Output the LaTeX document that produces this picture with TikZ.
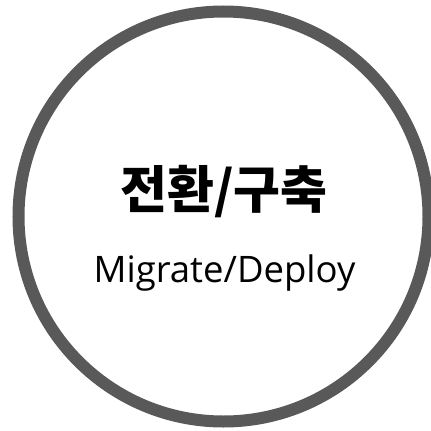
\documentclass[tikz,border=0pt]{standalone}
\usepackage{fontspec}
\setmainfont{Open Sans}
\newfontfamily\krfont{Noto Sans CJK KR}
\usetikzlibrary{positioning}
\definecolor{RimGray}{RGB}{89,89,89}

\begin{document}
\begin{tikzpicture}[x=1pt, y=-1pt]
		\useasboundingbox (0,0) rectangle (431,431);
		\coordinate (O) at (223.5,216.5);
		\draw[RimGray, line width=12pt] (O) circle (205);
		\node[font=\krfont\bfseries\fontsize{51}{56}\selectfont, inner sep=0pt] (title) at (224,191.5) {전환/구축};
		\node[font=\fontsize{36.5}{42}\selectfont, inner sep=0pt, anchor=base] (sub) at (224.5,282) {Migrate/Deploy};
	\end{tikzpicture}
\end{document}
